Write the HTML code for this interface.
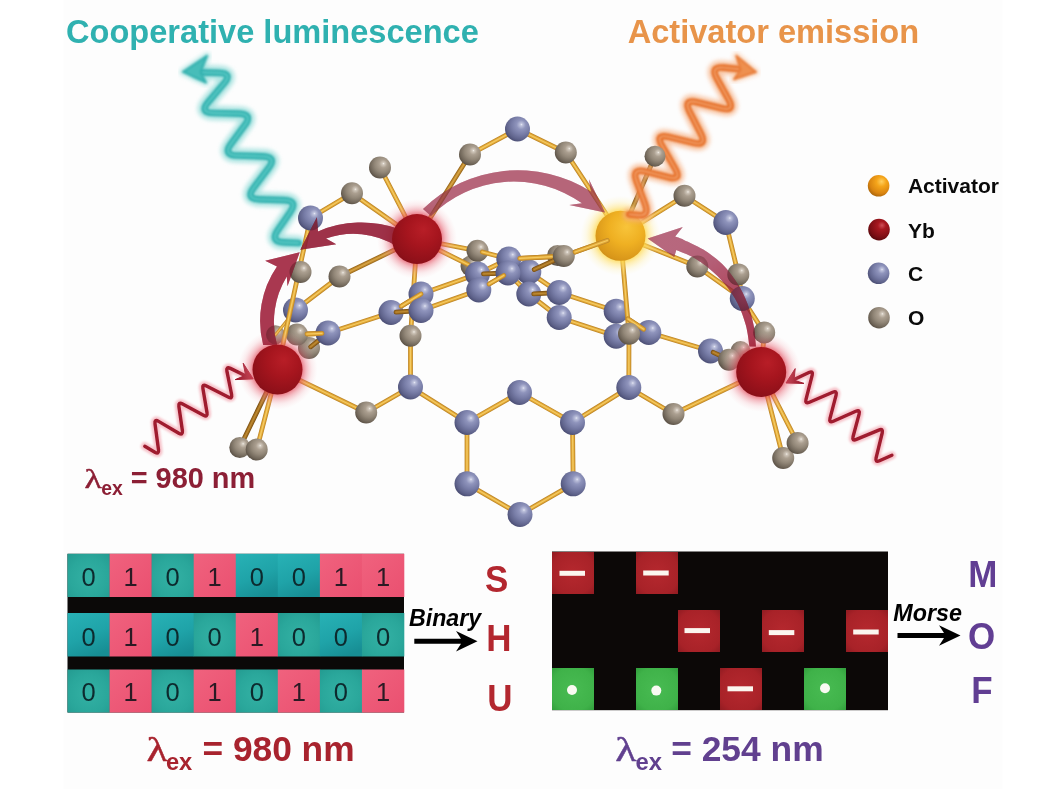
<!DOCTYPE html>
<html><head><meta charset="utf-8"><title>Cooperative luminescence</title>
<style>html,body{margin:0;padding:0;background:#fff;}body{width:1042px;height:789px;overflow:hidden;font-family:"Liberation Sans",sans-serif;}svg{display:block;}text{font-family:"Liberation Sans",sans-serif;}.ser{font-family:"Liberation Serif",serif;}</style>
</head><body>
<svg width="1042" height="789" viewBox="0 0 1042 789">
<defs>
<radialGradient id="gC" cx="0.61" cy="0.37" r="0.76" fx="0.66" fy="0.32">
 <stop offset="0" stop-color="#e4e6f3"/><stop offset="0.07" stop-color="#bcc0db"/><stop offset="0.24" stop-color="#8f94bc"/><stop offset="0.5" stop-color="#777ca6"/><stop offset="0.74" stop-color="#5f638b"/><stop offset="0.91" stop-color="#46496f"/><stop offset="1" stop-color="#3b3e62"/>
</radialGradient>
<radialGradient id="gO" cx="0.61" cy="0.37" r="0.76" fx="0.66" fy="0.32">
 <stop offset="0" stop-color="#f2eee8"/><stop offset="0.07" stop-color="#d0c7bb"/><stop offset="0.24" stop-color="#ab9f90"/><stop offset="0.5" stop-color="#928778"/><stop offset="0.74" stop-color="#72685b"/><stop offset="0.91" stop-color="#564c41"/><stop offset="1" stop-color="#473e35"/>
</radialGradient>
<radialGradient id="gYb" cx="0.6" cy="0.36" r="0.78" fx="0.63" fy="0.31">
 <stop offset="0" stop-color="#b81e27"/><stop offset="0.4" stop-color="#a6151e"/><stop offset="0.8" stop-color="#8e1019"/><stop offset="1" stop-color="#780c13"/>
</radialGradient>
<radialGradient id="gAct" cx="0.6" cy="0.36" r="0.75" fx="0.62" fy="0.32">
 <stop offset="0" stop-color="#f8c43a"/><stop offset="0.45" stop-color="#efb022"/><stop offset="0.85" stop-color="#d8961a"/><stop offset="1" stop-color="#c08214"/>
</radialGradient>
<radialGradient id="gLA" cx="0.6" cy="0.34" r="0.75" fx="0.64" fy="0.3">
 <stop offset="0" stop-color="#ffd060"/><stop offset="0.3" stop-color="#f5a51a"/><stop offset="0.7" stop-color="#d98410"/><stop offset="1" stop-color="#9c5c0a"/>
</radialGradient>
<radialGradient id="gLY" cx="0.6" cy="0.34" r="0.75" fx="0.64" fy="0.3">
 <stop offset="0" stop-color="#d05058"/><stop offset="0.25" stop-color="#a81820"/><stop offset="0.7" stop-color="#7c0e14"/><stop offset="1" stop-color="#4c060a"/>
</radialGradient>
<radialGradient id="glowR" cx="0.5" cy="0.5" r="0.5">
 <stop offset="0.6" stop-color="#e03a4c" stop-opacity="0.7"/><stop offset="0.72" stop-color="#e86474" stop-opacity="0.42"/><stop offset="0.86" stop-color="#f0909c" stop-opacity="0.16"/><stop offset="1" stop-color="#f8b0b8" stop-opacity="0"/>
</radialGradient>
<radialGradient id="glowY" cx="0.5" cy="0.5" r="0.5">
 <stop offset="0.6" stop-color="#ffd640" stop-opacity="0.8"/><stop offset="0.72" stop-color="#ffe06a" stop-opacity="0.5"/><stop offset="0.86" stop-color="#ffea90" stop-opacity="0.2"/><stop offset="1" stop-color="#fff0a8" stop-opacity="0"/>
</radialGradient>
<linearGradient id="arr4" gradientUnits="userSpaceOnUse" x1="752" y1="346" x2="690" y2="240">
 <stop offset="0" stop-color="#ac3850"/><stop offset="0.45" stop-color="#b0485f"/><stop offset="0.75" stop-color="#b55e76"/><stop offset="1" stop-color="#b8687e"/>
</linearGradient>
<radialGradient id="cellT" cx="0.5" cy="0.55" r="0.75"><stop offset="0" stop-color="#33b1a4"/><stop offset="0.6" stop-color="#2aa79b"/><stop offset="1" stop-color="#239a90"/></radialGradient>
<linearGradient id="cellT2" x1="0.2" y1="0" x2="0.6" y2="1"><stop offset="0" stop-color="#27b0b4"/><stop offset="0.55" stop-color="#1fa3a8"/><stop offset="1" stop-color="#178e94"/></linearGradient>
<linearGradient id="cellP" x1="0" y1="0" x2="1" y2="1"><stop offset="0" stop-color="#f0627e"/><stop offset="1" stop-color="#ea5070"/></linearGradient>
<radialGradient id="cellR" cx="0.5" cy="0.5" r="0.75"><stop offset="0" stop-color="#b5282e"/><stop offset="0.7" stop-color="#a82228"/><stop offset="1" stop-color="#8a1a20"/></radialGradient>
<radialGradient id="cellG" cx="0.5" cy="0.5" r="0.75"><stop offset="0" stop-color="#48bb52"/><stop offset="0.7" stop-color="#3fb249"/><stop offset="1" stop-color="#2f9a3a"/></radialGradient>
<filter id="b2" x="-20%" y="-20%" width="140%" height="140%"><feGaussianBlur stdDeviation="2.2"/></filter>
<filter id="b1" x="-20%" y="-20%" width="140%" height="140%"><feGaussianBlur stdDeviation="1.3"/></filter>
<filter id="b07" x="-20%" y="-20%" width="140%" height="140%"><feGaussianBlur stdDeviation="0.8"/></filter>
<filter id="b05" x="-20%" y="-20%" width="140%" height="140%"><feGaussianBlur stdDeviation="0.6"/></filter>
</defs>
<rect width="1042" height="789" fill="#ffffff"/>
<rect x="63.5" y="0" width="939" height="789" fill="#fdfdfd"/>
<text x="66" y="43.2" font-size="32.6" font-weight="bold" fill="#2fb1b0" id="t1">Cooperative luminescence</text>
<text x="627.7" y="43.2" font-size="32.6" font-weight="bold" fill="#e8944a" id="t2">Activator emission</text>
<g fill="none" stroke-linecap="round" stroke-linejoin="round">
<path d="M298.4,243.0 L283.9,242.3 Q269.9,241.6 277.8,230.1 L290.2,212.1 Q298.2,200.5 284.2,200.1 L259.3,199.3 Q245.3,198.9 253.7,187.7 L268.6,167.9 Q277.0,156.7 263.0,156.3 L236.7,155.5 Q222.7,155.0 231.1,143.8 L244.7,125.3 Q253.1,114.1 239.1,113.7 L213.2,113.0 Q199.2,112.6 208.3,102.0 L223.8,83.7 Q232.9,73.1 218.9,72.8 L198.0,72.3" stroke="#86d8d4" stroke-width="14.5" opacity="0.66" filter="url(#b2)"/>
<path d="M183,71.9 L207,55.8 L200.6,72.2 L206,82.6 Z" fill="#86d8d4" stroke="#86d8d4" stroke-width="7" opacity="0.55" filter="url(#b2)"/>
<path d="M298.4,243.0 L283.9,242.3 Q269.9,241.6 277.8,230.1 L290.2,212.1 Q298.2,200.5 284.2,200.1 L259.3,199.3 Q245.3,198.9 253.7,187.7 L268.6,167.9 Q277.0,156.7 263.0,156.3 L236.7,155.5 Q222.7,155.0 231.1,143.8 L244.7,125.3 Q253.1,114.1 239.1,113.7 L213.2,113.0 Q199.2,112.6 208.3,102.0 L223.8,83.7 Q232.9,73.1 218.9,72.8 L198.0,72.3" stroke="#31b0ae" stroke-width="6.7" filter="url(#b07)"/>
<path d="M298.4,243.0 L283.9,242.3 Q269.9,241.6 277.8,230.1 L290.2,212.1 Q298.2,200.5 284.2,200.1 L259.3,199.3 Q245.3,198.9 253.7,187.7 L268.6,167.9 Q277.0,156.7 263.0,156.3 L236.7,155.5 Q222.7,155.0 231.1,143.8 L244.7,125.3 Q253.1,114.1 239.1,113.7 L213.2,113.0 Q199.2,112.6 208.3,102.0 L223.8,83.7 Q232.9,73.1 218.9,72.8 L198.0,72.3" stroke="#5ccac6" stroke-width="2.3" opacity="0.9" filter="url(#b07)"/>
</g>
<path d="M183,71.9 L207,55.8 L200.6,72.2 L206,82.6 Z" fill="#47bdb9" stroke="#31b0ae" stroke-width="2" stroke-linejoin="round" filter="url(#b07)"/>
<g fill="none" stroke-linecap="round" stroke-linejoin="round">
<path d="M144.8,446.3 L154.9,452.2 Q159.2,454.7 158.5,449.8 L155.0,423.8 Q154.3,418.9 158.6,421.4 L178.8,433.2 Q183.1,435.7 182.4,430.8 L178.9,406.6 Q178.2,401.6 182.6,404.0 L203.5,415.2 Q207.9,417.6 207.0,412.6 L202.9,388.5 Q202.0,383.6 206.5,385.9 L228.2,397.1 Q232.6,399.4 231.6,394.5 L226.9,371.2 Q225.9,366.3 230.4,368.4 L247.0,376.5" stroke="#f08a98" stroke-width="8" opacity="0.5" filter="url(#b1)"/>
<path d="M144.8,446.3 L154.9,452.2 Q159.2,454.7 158.5,449.8 L155.0,423.8 Q154.3,418.9 158.6,421.4 L178.8,433.2 Q183.1,435.7 182.4,430.8 L178.9,406.6 Q178.2,401.6 182.6,404.0 L203.5,415.2 Q207.9,417.6 207.0,412.6 L202.9,388.5 Q202.0,383.6 206.5,385.9 L228.2,397.1 Q232.6,399.4 231.6,394.5 L226.9,371.2 Q225.9,366.3 230.4,368.4 L247.0,376.5" stroke="#9f1a2e" stroke-width="3.4" filter="url(#b05)"/>
</g>
<path d="M253.2,378.9 L243.2,363.2 L245.6,375.3 L235.2,379.6 Z" fill="#9f1a2e" stroke="#9f1a2e" stroke-width="1" stroke-linejoin="round" filter="url(#b05)"/>
<g fill="none" stroke-linecap="round" stroke-linejoin="round">
<path d="M891.9,455.3 L879.5,460.8 Q874.9,462.8 876.1,457.9 L882.2,433.0 Q883.4,428.2 878.8,430.1 L856.4,439.4 Q851.8,441.3 853.1,436.5 L859.1,414.1 Q860.4,409.2 855.8,411.3 L833.3,421.2 Q828.7,423.3 830.0,418.4 L836.1,395.1 Q837.3,390.2 832.7,392.2 L809.4,402.3 Q804.8,404.3 806.0,399.4 L812.2,375.2 Q813.4,370.4 808.9,372.5 L792.0,380.5" stroke="#f08a98" stroke-width="8" opacity="0.5" filter="url(#b1)"/>
<path d="M891.9,455.3 L879.5,460.8 Q874.9,462.8 876.1,457.9 L882.2,433.0 Q883.4,428.2 878.8,430.1 L856.4,439.4 Q851.8,441.3 853.1,436.5 L859.1,414.1 Q860.4,409.2 855.8,411.3 L833.3,421.2 Q828.7,423.3 830.0,418.4 L836.1,395.1 Q837.3,390.2 832.7,392.2 L809.4,402.3 Q804.8,404.3 806.0,399.4 L812.2,375.2 Q813.4,370.4 808.9,372.5 L792.0,380.5" stroke="#9f1a2e" stroke-width="3.4" filter="url(#b05)"/>
</g>
<path d="M786.0,383.0 L795.2,368.6 L794.0,380.2 L804.0,383.4 Z" fill="#9f1a2e" stroke="#9f1a2e" stroke-width="1" stroke-linejoin="round" filter="url(#b05)"/>
<circle cx="275.5" cy="334.8" r="9.5" fill="url(#gO)"/>
<line x1="275.5" y1="334.8" x2="295.5" y2="310.0" stroke="#bf882a" stroke-width="3.00" stroke-linecap="round"/>
<line x1="275.5" y1="334.8" x2="295.5" y2="310.0" stroke="#e3a936" stroke-width="1.98" stroke-linecap="round"/>
<line x1="275.5" y1="334.8" x2="295.5" y2="310.0" stroke="#f4cb64" stroke-width="0.78" stroke-linecap="round"/>
<line x1="277.5" y1="369.5" x2="239.8" y2="447.5" stroke="#7d5216" stroke-width="4.80" stroke-linecap="round"/>
<line x1="277.5" y1="369.5" x2="239.8" y2="447.5" stroke="#a4701f" stroke-width="3.17" stroke-linecap="round"/>
<line x1="277.5" y1="369.5" x2="239.8" y2="447.5" stroke="#bd8a34" stroke-width="1.25" stroke-linecap="round"/>
<circle cx="239.8" cy="447.5" r="10.5" fill="url(#gO)"/>
<line x1="277.5" y1="369.5" x2="256.7" y2="449.5" stroke="#bf882a" stroke-width="4.80" stroke-linecap="round"/>
<line x1="277.5" y1="369.5" x2="256.7" y2="449.5" stroke="#e3a936" stroke-width="3.17" stroke-linecap="round"/>
<line x1="277.5" y1="369.5" x2="256.7" y2="449.5" stroke="#f4cb64" stroke-width="1.25" stroke-linecap="round"/>
<circle cx="471.0" cy="266.0" r="10.5" fill="url(#gO)"/>
<circle cx="557.5" cy="255.5" r="10.5" fill="url(#gO)"/>
<circle cx="740.5" cy="351.0" r="10.0" fill="url(#gO)"/>
<line x1="517.5" y1="129.0" x2="470.0" y2="154.5" stroke="#bf882a" stroke-width="4.80" stroke-linecap="round"/>
<line x1="517.5" y1="129.0" x2="470.0" y2="154.5" stroke="#e3a936" stroke-width="3.17" stroke-linecap="round"/>
<line x1="517.5" y1="129.0" x2="470.0" y2="154.5" stroke="#f4cb64" stroke-width="1.25" stroke-linecap="round"/>
<line x1="517.5" y1="129.0" x2="565.8" y2="152.5" stroke="#bf882a" stroke-width="4.80" stroke-linecap="round"/>
<line x1="517.5" y1="129.0" x2="565.8" y2="152.5" stroke="#e3a936" stroke-width="3.17" stroke-linecap="round"/>
<line x1="517.5" y1="129.0" x2="565.8" y2="152.5" stroke="#f4cb64" stroke-width="1.25" stroke-linecap="round"/>
<line x1="470.0" y1="154.5" x2="417.0" y2="239.0" stroke="#9c6a1e" stroke-width="4.80" stroke-linecap="round"/>
<line x1="470.0" y1="154.5" x2="417.0" y2="239.0" stroke="#c08a2c" stroke-width="3.17" stroke-linecap="round"/>
<line x1="470.0" y1="154.5" x2="417.0" y2="239.0" stroke="#d8a648" stroke-width="1.25" stroke-linecap="round"/>
<line x1="380.0" y1="167.5" x2="417.0" y2="239.0" stroke="#bf882a" stroke-width="4.80" stroke-linecap="round"/>
<line x1="380.0" y1="167.5" x2="417.0" y2="239.0" stroke="#e3a936" stroke-width="3.17" stroke-linecap="round"/>
<line x1="380.0" y1="167.5" x2="417.0" y2="239.0" stroke="#f4cb64" stroke-width="1.25" stroke-linecap="round"/>
<line x1="352.0" y1="193.2" x2="417.0" y2="239.0" stroke="#bf882a" stroke-width="4.80" stroke-linecap="round"/>
<line x1="352.0" y1="193.2" x2="417.0" y2="239.0" stroke="#e3a936" stroke-width="3.17" stroke-linecap="round"/>
<line x1="352.0" y1="193.2" x2="417.0" y2="239.0" stroke="#f4cb64" stroke-width="1.25" stroke-linecap="round"/>
<line x1="352.0" y1="193.2" x2="310.5" y2="218.0" stroke="#bf882a" stroke-width="4.80" stroke-linecap="round"/>
<line x1="352.0" y1="193.2" x2="310.5" y2="218.0" stroke="#e3a936" stroke-width="3.17" stroke-linecap="round"/>
<line x1="352.0" y1="193.2" x2="310.5" y2="218.0" stroke="#f4cb64" stroke-width="1.25" stroke-linecap="round"/>
<line x1="565.8" y1="152.5" x2="620.5" y2="235.8" stroke="#bf882a" stroke-width="4.80" stroke-linecap="round"/>
<line x1="565.8" y1="152.5" x2="620.5" y2="235.8" stroke="#e3a936" stroke-width="3.17" stroke-linecap="round"/>
<line x1="565.8" y1="152.5" x2="620.5" y2="235.8" stroke="#f4cb64" stroke-width="1.25" stroke-linecap="round"/>
<line x1="684.5" y1="195.8" x2="620.5" y2="235.8" stroke="#bf882a" stroke-width="4.80" stroke-linecap="round"/>
<line x1="684.5" y1="195.8" x2="620.5" y2="235.8" stroke="#e3a936" stroke-width="3.17" stroke-linecap="round"/>
<line x1="684.5" y1="195.8" x2="620.5" y2="235.8" stroke="#f4cb64" stroke-width="1.25" stroke-linecap="round"/>
<line x1="684.5" y1="195.8" x2="725.8" y2="222.5" stroke="#bf882a" stroke-width="4.80" stroke-linecap="round"/>
<line x1="684.5" y1="195.8" x2="725.8" y2="222.5" stroke="#e3a936" stroke-width="3.17" stroke-linecap="round"/>
<line x1="684.5" y1="195.8" x2="725.8" y2="222.5" stroke="#f4cb64" stroke-width="1.25" stroke-linecap="round"/>
<line x1="725.8" y1="222.5" x2="738.3" y2="274.4" stroke="#bf882a" stroke-width="4.80" stroke-linecap="round"/>
<line x1="725.8" y1="222.5" x2="738.3" y2="274.4" stroke="#e3a936" stroke-width="3.17" stroke-linecap="round"/>
<line x1="725.8" y1="222.5" x2="738.3" y2="274.4" stroke="#f4cb64" stroke-width="1.25" stroke-linecap="round"/>
<line x1="738.3" y1="274.4" x2="742.3" y2="298.5" stroke="#bf882a" stroke-width="4.80" stroke-linecap="round"/>
<line x1="738.3" y1="274.4" x2="742.3" y2="298.5" stroke="#e3a936" stroke-width="3.17" stroke-linecap="round"/>
<line x1="738.3" y1="274.4" x2="742.3" y2="298.5" stroke="#f4cb64" stroke-width="1.25" stroke-linecap="round"/>
<line x1="620.5" y1="235.8" x2="697.3" y2="266.5" stroke="#bf882a" stroke-width="4.80" stroke-linecap="round"/>
<line x1="620.5" y1="235.8" x2="697.3" y2="266.5" stroke="#e3a936" stroke-width="3.17" stroke-linecap="round"/>
<line x1="620.5" y1="235.8" x2="697.3" y2="266.5" stroke="#f4cb64" stroke-width="1.25" stroke-linecap="round"/>
<line x1="697.3" y1="266.5" x2="742.3" y2="298.5" stroke="#bf882a" stroke-width="4.80" stroke-linecap="round"/>
<line x1="697.3" y1="266.5" x2="742.3" y2="298.5" stroke="#e3a936" stroke-width="3.17" stroke-linecap="round"/>
<line x1="697.3" y1="266.5" x2="742.3" y2="298.5" stroke="#f4cb64" stroke-width="1.25" stroke-linecap="round"/>
<line x1="742.3" y1="298.5" x2="764.2" y2="332.5" stroke="#bf882a" stroke-width="4.80" stroke-linecap="round"/>
<line x1="742.3" y1="298.5" x2="764.2" y2="332.5" stroke="#e3a936" stroke-width="3.17" stroke-linecap="round"/>
<line x1="742.3" y1="298.5" x2="764.2" y2="332.5" stroke="#f4cb64" stroke-width="1.25" stroke-linecap="round"/>
<line x1="764.2" y1="332.5" x2="761.2" y2="372.0" stroke="#bf882a" stroke-width="4.80" stroke-linecap="round"/>
<line x1="764.2" y1="332.5" x2="761.2" y2="372.0" stroke="#e3a936" stroke-width="3.17" stroke-linecap="round"/>
<line x1="764.2" y1="332.5" x2="761.2" y2="372.0" stroke="#f4cb64" stroke-width="1.25" stroke-linecap="round"/>
<line x1="417.0" y1="239.0" x2="477.5" y2="250.8" stroke="#bf882a" stroke-width="4.80" stroke-linecap="round"/>
<line x1="417.0" y1="239.0" x2="477.5" y2="250.8" stroke="#e3a936" stroke-width="3.17" stroke-linecap="round"/>
<line x1="417.0" y1="239.0" x2="477.5" y2="250.8" stroke="#f4cb64" stroke-width="1.25" stroke-linecap="round"/>
<line x1="339.5" y1="276.5" x2="417.0" y2="239.0" stroke="#9c6a1e" stroke-width="4.80" stroke-linecap="round"/>
<line x1="339.5" y1="276.5" x2="417.0" y2="239.0" stroke="#c08a2c" stroke-width="3.17" stroke-linecap="round"/>
<line x1="339.5" y1="276.5" x2="417.0" y2="239.0" stroke="#d8a648" stroke-width="1.25" stroke-linecap="round"/>
<line x1="339.5" y1="276.5" x2="295.5" y2="310.0" stroke="#bf882a" stroke-width="4.80" stroke-linecap="round"/>
<line x1="339.5" y1="276.5" x2="295.5" y2="310.0" stroke="#e3a936" stroke-width="3.17" stroke-linecap="round"/>
<line x1="339.5" y1="276.5" x2="295.5" y2="310.0" stroke="#f4cb64" stroke-width="1.25" stroke-linecap="round"/>
<line x1="328.0" y1="333.0" x2="391.0" y2="312.5" stroke="#bf882a" stroke-width="4.80" stroke-linecap="round"/>
<line x1="328.0" y1="333.0" x2="391.0" y2="312.5" stroke="#e3a936" stroke-width="3.17" stroke-linecap="round"/>
<line x1="328.0" y1="333.0" x2="391.0" y2="312.5" stroke="#f4cb64" stroke-width="1.25" stroke-linecap="round"/>
<line x1="421.0" y1="294.0" x2="477.5" y2="274.0" stroke="#bf882a" stroke-width="4.80" stroke-linecap="round"/>
<line x1="421.0" y1="294.0" x2="477.5" y2="274.0" stroke="#e3a936" stroke-width="3.17" stroke-linecap="round"/>
<line x1="421.0" y1="294.0" x2="477.5" y2="274.0" stroke="#f4cb64" stroke-width="1.25" stroke-linecap="round"/>
<line x1="421.0" y1="310.5" x2="478.8" y2="290.0" stroke="#bf882a" stroke-width="4.80" stroke-linecap="round"/>
<line x1="421.0" y1="310.5" x2="478.8" y2="290.0" stroke="#e3a936" stroke-width="3.17" stroke-linecap="round"/>
<line x1="421.0" y1="310.5" x2="478.8" y2="290.0" stroke="#f4cb64" stroke-width="1.25" stroke-linecap="round"/>
<line x1="417.0" y1="239.0" x2="410.5" y2="335.8" stroke="#bf882a" stroke-width="4.80" stroke-linecap="round"/>
<line x1="417.0" y1="239.0" x2="410.5" y2="335.8" stroke="#e3a936" stroke-width="3.17" stroke-linecap="round"/>
<line x1="417.0" y1="239.0" x2="410.5" y2="335.8" stroke="#f4cb64" stroke-width="1.25" stroke-linecap="round"/>
<line x1="410.5" y1="335.8" x2="410.5" y2="387.0" stroke="#bf882a" stroke-width="4.80" stroke-linecap="round"/>
<line x1="410.5" y1="335.8" x2="410.5" y2="387.0" stroke="#e3a936" stroke-width="3.17" stroke-linecap="round"/>
<line x1="410.5" y1="335.8" x2="410.5" y2="387.0" stroke="#f4cb64" stroke-width="1.25" stroke-linecap="round"/>
<line x1="410.5" y1="387.0" x2="366.2" y2="412.5" stroke="#bf882a" stroke-width="4.80" stroke-linecap="round"/>
<line x1="410.5" y1="387.0" x2="366.2" y2="412.5" stroke="#e3a936" stroke-width="3.17" stroke-linecap="round"/>
<line x1="410.5" y1="387.0" x2="366.2" y2="412.5" stroke="#f4cb64" stroke-width="1.25" stroke-linecap="round"/>
<line x1="366.2" y1="412.5" x2="277.5" y2="369.5" stroke="#bf882a" stroke-width="4.80" stroke-linecap="round"/>
<line x1="366.2" y1="412.5" x2="277.5" y2="369.5" stroke="#e3a936" stroke-width="3.17" stroke-linecap="round"/>
<line x1="366.2" y1="412.5" x2="277.5" y2="369.5" stroke="#f4cb64" stroke-width="1.25" stroke-linecap="round"/>
<line x1="410.5" y1="387.0" x2="467.0" y2="422.5" stroke="#bf882a" stroke-width="4.80" stroke-linecap="round"/>
<line x1="410.5" y1="387.0" x2="467.0" y2="422.5" stroke="#e3a936" stroke-width="3.17" stroke-linecap="round"/>
<line x1="410.5" y1="387.0" x2="467.0" y2="422.5" stroke="#f4cb64" stroke-width="1.25" stroke-linecap="round"/>
<line x1="467.0" y1="422.5" x2="519.5" y2="392.5" stroke="#bf882a" stroke-width="4.80" stroke-linecap="round"/>
<line x1="467.0" y1="422.5" x2="519.5" y2="392.5" stroke="#e3a936" stroke-width="3.17" stroke-linecap="round"/>
<line x1="467.0" y1="422.5" x2="519.5" y2="392.5" stroke="#f4cb64" stroke-width="1.25" stroke-linecap="round"/>
<line x1="519.5" y1="392.5" x2="572.5" y2="422.5" stroke="#bf882a" stroke-width="4.80" stroke-linecap="round"/>
<line x1="519.5" y1="392.5" x2="572.5" y2="422.5" stroke="#e3a936" stroke-width="3.17" stroke-linecap="round"/>
<line x1="519.5" y1="392.5" x2="572.5" y2="422.5" stroke="#f4cb64" stroke-width="1.25" stroke-linecap="round"/>
<line x1="572.5" y1="422.5" x2="628.8" y2="387.5" stroke="#bf882a" stroke-width="4.80" stroke-linecap="round"/>
<line x1="572.5" y1="422.5" x2="628.8" y2="387.5" stroke="#e3a936" stroke-width="3.17" stroke-linecap="round"/>
<line x1="572.5" y1="422.5" x2="628.8" y2="387.5" stroke="#f4cb64" stroke-width="1.25" stroke-linecap="round"/>
<line x1="467.0" y1="422.5" x2="467.0" y2="483.8" stroke="#bf882a" stroke-width="4.80" stroke-linecap="round"/>
<line x1="467.0" y1="422.5" x2="467.0" y2="483.8" stroke="#e3a936" stroke-width="3.17" stroke-linecap="round"/>
<line x1="467.0" y1="422.5" x2="467.0" y2="483.8" stroke="#f4cb64" stroke-width="1.25" stroke-linecap="round"/>
<line x1="467.0" y1="483.8" x2="520.0" y2="514.5" stroke="#bf882a" stroke-width="4.80" stroke-linecap="round"/>
<line x1="467.0" y1="483.8" x2="520.0" y2="514.5" stroke="#e3a936" stroke-width="3.17" stroke-linecap="round"/>
<line x1="467.0" y1="483.8" x2="520.0" y2="514.5" stroke="#f4cb64" stroke-width="1.25" stroke-linecap="round"/>
<line x1="520.0" y1="514.5" x2="573.2" y2="483.8" stroke="#bf882a" stroke-width="4.80" stroke-linecap="round"/>
<line x1="520.0" y1="514.5" x2="573.2" y2="483.8" stroke="#e3a936" stroke-width="3.17" stroke-linecap="round"/>
<line x1="520.0" y1="514.5" x2="573.2" y2="483.8" stroke="#f4cb64" stroke-width="1.25" stroke-linecap="round"/>
<line x1="573.2" y1="483.8" x2="572.5" y2="422.5" stroke="#bf882a" stroke-width="4.80" stroke-linecap="round"/>
<line x1="573.2" y1="483.8" x2="572.5" y2="422.5" stroke="#e3a936" stroke-width="3.17" stroke-linecap="round"/>
<line x1="573.2" y1="483.8" x2="572.5" y2="422.5" stroke="#f4cb64" stroke-width="1.25" stroke-linecap="round"/>
<line x1="628.8" y1="387.5" x2="673.5" y2="414.0" stroke="#bf882a" stroke-width="4.80" stroke-linecap="round"/>
<line x1="628.8" y1="387.5" x2="673.5" y2="414.0" stroke="#e3a936" stroke-width="3.17" stroke-linecap="round"/>
<line x1="628.8" y1="387.5" x2="673.5" y2="414.0" stroke="#f4cb64" stroke-width="1.25" stroke-linecap="round"/>
<line x1="673.5" y1="414.0" x2="761.2" y2="372.0" stroke="#bf882a" stroke-width="4.80" stroke-linecap="round"/>
<line x1="673.5" y1="414.0" x2="761.2" y2="372.0" stroke="#e3a936" stroke-width="3.17" stroke-linecap="round"/>
<line x1="673.5" y1="414.0" x2="761.2" y2="372.0" stroke="#f4cb64" stroke-width="1.25" stroke-linecap="round"/>
<line x1="559.2" y1="292.5" x2="616.2" y2="311.2" stroke="#bf882a" stroke-width="4.80" stroke-linecap="round"/>
<line x1="559.2" y1="292.5" x2="616.2" y2="311.2" stroke="#e3a936" stroke-width="3.17" stroke-linecap="round"/>
<line x1="559.2" y1="292.5" x2="616.2" y2="311.2" stroke="#f4cb64" stroke-width="1.25" stroke-linecap="round"/>
<line x1="559.2" y1="317.5" x2="616.2" y2="336.2" stroke="#bf882a" stroke-width="4.80" stroke-linecap="round"/>
<line x1="559.2" y1="317.5" x2="616.2" y2="336.2" stroke="#e3a936" stroke-width="3.17" stroke-linecap="round"/>
<line x1="559.2" y1="317.5" x2="616.2" y2="336.2" stroke="#f4cb64" stroke-width="1.25" stroke-linecap="round"/>
<line x1="648.8" y1="332.5" x2="710.5" y2="351.0" stroke="#bf882a" stroke-width="4.80" stroke-linecap="round"/>
<line x1="648.8" y1="332.5" x2="710.5" y2="351.0" stroke="#e3a936" stroke-width="3.17" stroke-linecap="round"/>
<line x1="648.8" y1="332.5" x2="710.5" y2="351.0" stroke="#f4cb64" stroke-width="1.25" stroke-linecap="round"/>
<line x1="761.2" y1="372.0" x2="797.6" y2="443.0" stroke="#bf882a" stroke-width="4.80" stroke-linecap="round"/>
<line x1="761.2" y1="372.0" x2="797.6" y2="443.0" stroke="#e3a936" stroke-width="3.17" stroke-linecap="round"/>
<line x1="761.2" y1="372.0" x2="797.6" y2="443.0" stroke="#f4cb64" stroke-width="1.25" stroke-linecap="round"/>
<line x1="761.2" y1="372.0" x2="783.2" y2="458.0" stroke="#bf882a" stroke-width="4.80" stroke-linecap="round"/>
<line x1="761.2" y1="372.0" x2="783.2" y2="458.0" stroke="#e3a936" stroke-width="3.17" stroke-linecap="round"/>
<line x1="761.2" y1="372.0" x2="783.2" y2="458.0" stroke="#f4cb64" stroke-width="1.25" stroke-linecap="round"/>
<line x1="629.0" y1="333.8" x2="628.8" y2="387.5" stroke="#bf882a" stroke-width="4.80" stroke-linecap="round"/>
<line x1="629.0" y1="333.8" x2="628.8" y2="387.5" stroke="#e3a936" stroke-width="3.17" stroke-linecap="round"/>
<line x1="629.0" y1="333.8" x2="628.8" y2="387.5" stroke="#f4cb64" stroke-width="1.25" stroke-linecap="round"/>
<line x1="508.0" y1="273.0" x2="528.8" y2="294.0" stroke="#bf882a" stroke-width="4.80" stroke-linecap="round"/>
<line x1="508.0" y1="273.0" x2="528.8" y2="294.0" stroke="#e3a936" stroke-width="3.17" stroke-linecap="round"/>
<line x1="508.0" y1="273.0" x2="528.8" y2="294.0" stroke="#f4cb64" stroke-width="1.25" stroke-linecap="round"/>
<line x1="563.8" y1="256.0" x2="620.5" y2="235.8" stroke="#bf882a" stroke-width="4.80" stroke-linecap="round"/>
<line x1="563.8" y1="256.0" x2="620.5" y2="235.8" stroke="#e3a936" stroke-width="3.17" stroke-linecap="round"/>
<line x1="563.8" y1="256.0" x2="620.5" y2="235.8" stroke="#f4cb64" stroke-width="1.25" stroke-linecap="round"/>
<line x1="477.5" y1="274.0" x2="508.8" y2="259.0" stroke="#bf882a" stroke-width="4.80" stroke-linecap="round"/>
<line x1="477.5" y1="274.0" x2="508.8" y2="259.0" stroke="#e3a936" stroke-width="3.17" stroke-linecap="round"/>
<line x1="477.5" y1="274.0" x2="508.8" y2="259.0" stroke="#f4cb64" stroke-width="1.25" stroke-linecap="round"/>
<line x1="655.0" y1="156.2" x2="620.5" y2="235.8" stroke="#7d5216" stroke-width="4.80" stroke-linecap="round"/>
<line x1="655.0" y1="156.2" x2="620.5" y2="235.8" stroke="#a4701f" stroke-width="3.17" stroke-linecap="round"/>
<line x1="655.0" y1="156.2" x2="620.5" y2="235.8" stroke="#bd8a34" stroke-width="1.25" stroke-linecap="round"/>
<line x1="417.0" y1="239.0" x2="468.3" y2="264.7" stroke="#bf882a" stroke-width="4.80" stroke-linecap="round"/>
<line x1="417.0" y1="239.0" x2="468.3" y2="264.7" stroke="#e3a936" stroke-width="3.17" stroke-linecap="round"/>
<line x1="417.0" y1="239.0" x2="468.3" y2="264.7" stroke="#f4cb64" stroke-width="1.25" stroke-linecap="round"/>
<line x1="328.0" y1="333.0" x2="297.0" y2="334.5" stroke="#bf882a" stroke-width="4.80" stroke-linecap="round"/>
<line x1="328.0" y1="333.0" x2="297.0" y2="334.5" stroke="#e3a936" stroke-width="3.17" stroke-linecap="round"/>
<line x1="328.0" y1="333.0" x2="297.0" y2="334.5" stroke="#f4cb64" stroke-width="1.25" stroke-linecap="round"/>
<circle cx="309.0" cy="348.0" r="11.0" fill="url(#gO)"/>
<line x1="328.0" y1="333.0" x2="310.6" y2="346.8" stroke="#7d5216" stroke-width="4.80" stroke-linecap="round"/>
<line x1="328.0" y1="333.0" x2="310.6" y2="346.8" stroke="#a4701f" stroke-width="3.17" stroke-linecap="round"/>
<line x1="328.0" y1="333.0" x2="310.6" y2="346.8" stroke="#bd8a34" stroke-width="1.25" stroke-linecap="round"/>
<circle cx="297.0" cy="334.5" r="11.0" fill="url(#gO)"/>
<circle cx="328.0" cy="333.0" r="12.5" fill="url(#gC)"/>
<line x1="307.0" y1="334.0" x2="322.0" y2="333.3" stroke="#bf882a" stroke-width="4.80" stroke-linecap="round"/>
<line x1="307.0" y1="334.0" x2="322.0" y2="333.3" stroke="#e3a936" stroke-width="3.17" stroke-linecap="round"/>
<line x1="307.0" y1="334.0" x2="322.0" y2="333.3" stroke="#f4cb64" stroke-width="1.25" stroke-linecap="round"/>
<circle cx="295.5" cy="310.0" r="12.5" fill="url(#gC)"/>
<line x1="310.5" y1="218.0" x2="277.5" y2="369.5" stroke="#bf882a" stroke-width="4.80" stroke-linecap="round"/>
<line x1="310.5" y1="218.0" x2="277.5" y2="369.5" stroke="#e3a936" stroke-width="3.17" stroke-linecap="round"/>
<line x1="310.5" y1="218.0" x2="277.5" y2="369.5" stroke="#f4cb64" stroke-width="1.25" stroke-linecap="round"/>
<circle cx="300.5" cy="272.0" r="11.0" fill="url(#gO)"/>
<circle cx="310.5" cy="218.0" r="12.5" fill="url(#gC)"/>
<circle cx="339.5" cy="276.5" r="11.0" fill="url(#gO)"/>
<circle cx="352.0" cy="193.2" r="11.0" fill="url(#gO)"/>
<circle cx="380.0" cy="167.5" r="11.0" fill="url(#gO)"/>
<circle cx="470.0" cy="154.5" r="11.0" fill="url(#gO)"/>
<circle cx="517.5" cy="129.0" r="12.5" fill="url(#gC)"/>
<circle cx="565.8" cy="152.5" r="11.0" fill="url(#gO)"/>
<circle cx="684.5" cy="195.8" r="11.0" fill="url(#gO)"/>
<circle cx="725.8" cy="222.5" r="12.5" fill="url(#gC)"/>
<circle cx="697.3" cy="266.5" r="11.0" fill="url(#gO)"/>
<circle cx="738.3" cy="274.4" r="11.0" fill="url(#gO)"/>
<circle cx="742.3" cy="298.5" r="12.5" fill="url(#gC)"/>
<circle cx="764.2" cy="332.5" r="11.0" fill="url(#gO)"/>
<line x1="508.8" y1="259.0" x2="563.8" y2="256.0" stroke="#bf882a" stroke-width="4.80" stroke-linecap="round"/>
<line x1="508.8" y1="259.0" x2="563.8" y2="256.0" stroke="#e3a936" stroke-width="3.17" stroke-linecap="round"/>
<line x1="508.8" y1="259.0" x2="563.8" y2="256.0" stroke="#f4cb64" stroke-width="1.25" stroke-linecap="round"/>
<line x1="528.8" y1="272.0" x2="559.2" y2="292.5" stroke="#bf882a" stroke-width="4.80" stroke-linecap="round"/>
<line x1="528.8" y1="272.0" x2="559.2" y2="292.5" stroke="#e3a936" stroke-width="3.17" stroke-linecap="round"/>
<line x1="528.8" y1="272.0" x2="559.2" y2="292.5" stroke="#f4cb64" stroke-width="1.25" stroke-linecap="round"/>
<line x1="528.8" y1="294.0" x2="559.2" y2="317.5" stroke="#bf882a" stroke-width="4.80" stroke-linecap="round"/>
<line x1="528.8" y1="294.0" x2="559.2" y2="317.5" stroke="#e3a936" stroke-width="3.17" stroke-linecap="round"/>
<line x1="528.8" y1="294.0" x2="559.2" y2="317.5" stroke="#f4cb64" stroke-width="1.25" stroke-linecap="round"/>
<line x1="478.8" y1="290.0" x2="508.0" y2="273.0" stroke="#bf882a" stroke-width="4.80" stroke-linecap="round"/>
<line x1="478.8" y1="290.0" x2="508.0" y2="273.0" stroke="#e3a936" stroke-width="3.17" stroke-linecap="round"/>
<line x1="478.8" y1="290.0" x2="508.0" y2="273.0" stroke="#f4cb64" stroke-width="1.25" stroke-linecap="round"/>
<line x1="391.0" y1="312.5" x2="421.0" y2="294.0" stroke="#bf882a" stroke-width="4.80" stroke-linecap="round"/>
<line x1="391.0" y1="312.5" x2="421.0" y2="294.0" stroke="#e3a936" stroke-width="3.17" stroke-linecap="round"/>
<line x1="391.0" y1="312.5" x2="421.0" y2="294.0" stroke="#f4cb64" stroke-width="1.25" stroke-linecap="round"/>
<line x1="616.2" y1="311.2" x2="648.8" y2="332.5" stroke="#bf882a" stroke-width="4.80" stroke-linecap="round"/>
<line x1="616.2" y1="311.2" x2="648.8" y2="332.5" stroke="#e3a936" stroke-width="3.17" stroke-linecap="round"/>
<line x1="616.2" y1="311.2" x2="648.8" y2="332.5" stroke="#f4cb64" stroke-width="1.25" stroke-linecap="round"/>
<circle cx="477.5" cy="250.8" r="11.0" fill="url(#gO)"/>
<line x1="482.3" y1="252.0" x2="508.8" y2="259.0" stroke="#bf882a" stroke-width="4.80" stroke-linecap="round"/>
<line x1="482.3" y1="252.0" x2="508.8" y2="259.0" stroke="#e3a936" stroke-width="3.17" stroke-linecap="round"/>
<line x1="482.3" y1="252.0" x2="508.8" y2="259.0" stroke="#f4cb64" stroke-width="1.25" stroke-linecap="round"/>
<circle cx="508.8" cy="259.0" r="12.5" fill="url(#gC)"/>
<circle cx="477.5" cy="274.0" r="12.5" fill="url(#gC)"/>
<circle cx="528.8" cy="272.0" r="12.5" fill="url(#gC)"/>
<line x1="483.5" y1="273.8" x2="508.0" y2="273.0" stroke="#7d5216" stroke-width="4.80" stroke-linecap="round"/>
<line x1="483.5" y1="273.8" x2="508.0" y2="273.0" stroke="#a4701f" stroke-width="3.17" stroke-linecap="round"/>
<line x1="483.5" y1="273.8" x2="508.0" y2="273.0" stroke="#bd8a34" stroke-width="1.25" stroke-linecap="round"/>
<line x1="519.7" y1="258.4" x2="563.8" y2="256.0" stroke="#bf882a" stroke-width="4.80" stroke-linecap="round"/>
<line x1="519.7" y1="258.4" x2="563.8" y2="256.0" stroke="#e3a936" stroke-width="3.17" stroke-linecap="round"/>
<line x1="519.7" y1="258.4" x2="563.8" y2="256.0" stroke="#f4cb64" stroke-width="1.25" stroke-linecap="round"/>
<line x1="534.2" y1="269.5" x2="563.8" y2="256.0" stroke="#7d5216" stroke-width="4.80" stroke-linecap="round"/>
<line x1="534.2" y1="269.5" x2="563.8" y2="256.0" stroke="#a4701f" stroke-width="3.17" stroke-linecap="round"/>
<line x1="534.2" y1="269.5" x2="563.8" y2="256.0" stroke="#bd8a34" stroke-width="1.25" stroke-linecap="round"/>
<circle cx="563.8" cy="256.0" r="11.0" fill="url(#gO)"/>
<circle cx="508.0" cy="273.0" r="12.5" fill="url(#gC)"/>
<circle cx="478.8" cy="290.0" r="12.5" fill="url(#gC)"/>
<line x1="489.1" y1="284.0" x2="503.7" y2="275.5" stroke="#bf882a" stroke-width="4.80" stroke-linecap="round"/>
<line x1="489.1" y1="284.0" x2="503.7" y2="275.5" stroke="#e3a936" stroke-width="3.17" stroke-linecap="round"/>
<line x1="489.1" y1="284.0" x2="503.7" y2="275.5" stroke="#f4cb64" stroke-width="1.25" stroke-linecap="round"/>
<circle cx="528.8" cy="294.0" r="12.5" fill="url(#gC)"/>
<line x1="533.7" y1="293.8" x2="559.2" y2="292.5" stroke="#7d5216" stroke-width="4.80" stroke-linecap="round"/>
<line x1="533.7" y1="293.8" x2="559.2" y2="292.5" stroke="#a4701f" stroke-width="3.17" stroke-linecap="round"/>
<line x1="533.7" y1="293.8" x2="559.2" y2="292.5" stroke="#bd8a34" stroke-width="1.25" stroke-linecap="round"/>
<circle cx="559.2" cy="292.5" r="12.5" fill="url(#gC)"/>
<circle cx="559.2" cy="317.5" r="12.5" fill="url(#gC)"/>
<circle cx="391.0" cy="312.5" r="12.5" fill="url(#gC)"/>
<circle cx="421.0" cy="294.0" r="12.5" fill="url(#gC)"/>
<line x1="401.2" y1="306.2" x2="421.0" y2="294.0" stroke="#bf882a" stroke-width="4.80" stroke-linecap="round"/>
<line x1="401.2" y1="306.2" x2="421.0" y2="294.0" stroke="#e3a936" stroke-width="3.17" stroke-linecap="round"/>
<line x1="401.2" y1="306.2" x2="421.0" y2="294.0" stroke="#f4cb64" stroke-width="1.25" stroke-linecap="round"/>
<line x1="396.0" y1="312.2" x2="421.0" y2="310.5" stroke="#7d5216" stroke-width="4.80" stroke-linecap="round"/>
<line x1="396.0" y1="312.2" x2="421.0" y2="310.5" stroke="#a4701f" stroke-width="3.17" stroke-linecap="round"/>
<line x1="396.0" y1="312.2" x2="421.0" y2="310.5" stroke="#bd8a34" stroke-width="1.25" stroke-linecap="round"/>
<circle cx="421.0" cy="310.5" r="12.5" fill="url(#gC)"/>
<circle cx="410.5" cy="335.8" r="11.0" fill="url(#gO)"/>
<circle cx="410.5" cy="387.0" r="12.5" fill="url(#gC)"/>
<circle cx="366.2" cy="412.5" r="11.0" fill="url(#gO)"/>
<circle cx="467.0" cy="422.5" r="12.5" fill="url(#gC)"/>
<circle cx="519.5" cy="392.5" r="12.5" fill="url(#gC)"/>
<circle cx="572.5" cy="422.5" r="12.5" fill="url(#gC)"/>
<circle cx="628.8" cy="387.5" r="12.5" fill="url(#gC)"/>
<circle cx="467.0" cy="483.8" r="12.5" fill="url(#gC)"/>
<circle cx="573.2" cy="483.8" r="12.5" fill="url(#gC)"/>
<circle cx="520.0" cy="514.5" r="12.5" fill="url(#gC)"/>
<circle cx="673.5" cy="414.0" r="11.0" fill="url(#gO)"/>
<circle cx="616.2" cy="336.2" r="12.5" fill="url(#gC)"/>
<circle cx="616.2" cy="311.2" r="12.5" fill="url(#gC)"/>
<line x1="620.5" y1="235.8" x2="629.0" y2="333.8" stroke="#bf882a" stroke-width="4.80" stroke-linecap="round"/>
<line x1="620.5" y1="235.8" x2="629.0" y2="333.8" stroke="#e3a936" stroke-width="3.17" stroke-linecap="round"/>
<line x1="620.5" y1="235.8" x2="629.0" y2="333.8" stroke="#f4cb64" stroke-width="1.25" stroke-linecap="round"/>
<circle cx="648.8" cy="332.5" r="12.5" fill="url(#gC)"/>
<line x1="628.0" y1="318.9" x2="643.7" y2="329.2" stroke="#bf882a" stroke-width="4.80" stroke-linecap="round"/>
<line x1="628.0" y1="318.9" x2="643.7" y2="329.2" stroke="#e3a936" stroke-width="3.17" stroke-linecap="round"/>
<line x1="628.0" y1="318.9" x2="643.7" y2="329.2" stroke="#f4cb64" stroke-width="1.25" stroke-linecap="round"/>
<circle cx="629.0" cy="333.8" r="11.0" fill="url(#gO)"/>
<circle cx="710.5" cy="351.0" r="12.5" fill="url(#gC)"/>
<line x1="713.2" y1="352.3" x2="729.0" y2="359.7" stroke="#7d5216" stroke-width="4.80" stroke-linecap="round"/>
<line x1="713.2" y1="352.3" x2="729.0" y2="359.7" stroke="#a4701f" stroke-width="3.17" stroke-linecap="round"/>
<line x1="713.2" y1="352.3" x2="729.0" y2="359.7" stroke="#bd8a34" stroke-width="1.25" stroke-linecap="round"/>
<circle cx="729.0" cy="359.7" r="11.0" fill="url(#gO)"/>
<circle cx="783.2" cy="458.0" r="11.0" fill="url(#gO)"/>
<circle cx="797.6" cy="443.0" r="11.0" fill="url(#gO)"/>
<circle cx="256.7" cy="449.5" r="11.0" fill="url(#gO)"/>
<circle cx="417.0" cy="239.0" r="40" fill="url(#glowR)"/>
<circle cx="277.5" cy="369.5" r="40" fill="url(#glowR)"/>
<circle cx="761.2" cy="372.0" r="40" fill="url(#glowR)"/>
<circle cx="620.5" cy="235.8" r="40" fill="url(#glowY)"/>
<path d="M423.0,209.0 A135.2,135.2 0 0 1 591.0,191.8 L588.9,179.2 L605.0,212.5 L569.3,205.0 L582.0,203.3 A117.2,117.2 0 0 0 431.0,216.0 Z" fill="#b7657a" style="mix-blend-mode:multiply"/>
<path d="M423.0,209.0 A135.2,135.2 0 0 1 591.0,191.8 L588.9,179.2 L605.0,212.5 L569.3,205.0 L582.0,203.3 A117.2,117.2 0 0 0 431.0,216.0 Z" fill="#b7657a" fill-opacity="0.45"/>
<path d="M398.0,228.8 A110.1,110.1 0 0 0 318.0,231.4 L316.9,217.2 L300.3,249.7 L336.2,244.2 L326.0,238.5 A81.1,81.1 0 0 1 396.0,245.8 Z" fill="#9f324a" style="mix-blend-mode:multiply"/>
<path d="M398.0,228.8 A110.1,110.1 0 0 0 318.0,231.4 L316.9,217.2 L300.3,249.7 L336.2,244.2 L326.0,238.5 A81.1,81.1 0 0 1 396.0,245.8 Z" fill="#9f324a" fill-opacity="0.60"/>
<path d="M263.2,345.0 A95.7,95.7 0 0 1 277.0,266.6 L265.2,260.8 L299.7,252.3 L287.5,286.2 L286.8,276.4 A87.3,87.3 0 0 0 277.0,345.0 Z" fill="#aa3951" style="mix-blend-mode:multiply"/>
<path d="M263.2,345.0 A95.7,95.7 0 0 1 277.0,266.6 L265.2,260.8 L299.7,252.3 L287.5,286.2 L286.8,276.4 A87.3,87.3 0 0 0 277.0,345.0 Z" fill="#aa3951" fill-opacity="0.55"/>
<path d="M756.0,346.5 C755.6,342.9 755.0,332.2 753.6,325.0 C752.2,317.8 750.0,310.2 747.4,303.4 C744.8,296.6 741.8,290.5 737.7,284.0 C733.6,277.5 728.4,270.3 722.7,264.6 C717.0,258.9 709.8,253.7 703.3,249.6 C696.8,245.5 688.6,242.1 683.9,239.9 C679.2,237.7 676.7,237.2 675.2,236.6 L682.8,226.9 L647.7,238.4 L674.2,257.1 L676.3,250.0 C679.0,251.2 686.9,253.9 692.5,257.1 C698.1,260.3 704.3,264.5 709.7,269.0 C715.1,273.5 720.1,278.3 724.8,284.0 C729.5,289.7 734.2,296.6 737.7,303.4 C741.2,310.2 743.8,317.8 745.8,325.0 C747.8,332.2 748.9,342.9 749.5,346.5 Z" fill="url(#arr4)" style="mix-blend-mode:multiply"/>
<path d="M756.0,346.5 C755.6,342.9 755.0,332.2 753.6,325.0 C752.2,317.8 750.0,310.2 747.4,303.4 C744.8,296.6 741.8,290.5 737.7,284.0 C733.6,277.5 728.4,270.3 722.7,264.6 C717.0,258.9 709.8,253.7 703.3,249.6 C696.8,245.5 688.6,242.1 683.9,239.9 C679.2,237.7 676.7,237.2 675.2,236.6 L682.8,226.9 L647.7,238.4 L674.2,257.1 L676.3,250.0 C679.0,251.2 686.9,253.9 692.5,257.1 C698.1,260.3 704.3,264.5 709.7,269.0 C715.1,273.5 720.1,278.3 724.8,284.0 C729.5,289.7 734.2,296.6 737.7,303.4 C741.2,310.2 743.8,317.8 745.8,325.0 C747.8,332.2 748.9,342.9 749.5,346.5 Z" fill="url(#arr4)" fill-opacity="0.45"/>
<circle cx="417.0" cy="239.0" r="25.0" fill="url(#gYb)"/>
<circle cx="277.5" cy="369.5" r="25.0" fill="url(#gYb)"/>
<circle cx="761.2" cy="372.0" r="25.0" fill="url(#gYb)"/>
<circle cx="620.5" cy="235.8" r="25.0" fill="url(#gAct)"/>
<line x1="575.1" y1="252.0" x2="607.3" y2="240.5" stroke="#bf882a" stroke-width="4.80" stroke-linecap="round"/>
<line x1="575.1" y1="252.0" x2="607.3" y2="240.5" stroke="#e3a936" stroke-width="3.17" stroke-linecap="round"/>
<line x1="575.1" y1="252.0" x2="607.3" y2="240.5" stroke="#f4cb64" stroke-width="1.25" stroke-linecap="round"/>
<g fill="none" stroke-linecap="round" stroke-linejoin="round"><path d="M629.3,214.4 L639.5,215.3 Q649.6,216.2 644.7,203.1 L636.5,181.1 Q631.5,168.0 645.1,171.4 L668.5,177.3 Q682.1,180.8 675.1,168.6 L662.0,145.7 Q655.0,133.6 668.6,136.9 L693.6,142.9 Q707.2,146.2 700.9,133.7 L689.5,111.4 Q683.2,98.9 696.8,102.2 L721.7,108.3 Q735.3,111.6 728.5,99.3 L716.8,78.3 Q710.0,66.1 723.9,67.6 L740.0,69.3" stroke="#f6ae80" stroke-width="14" opacity="0.68" filter="url(#b2)"/><path d="M756,72 L736.3,55.8 L740.6,69.6 L734,79.2 Z" fill="#f8bd94" stroke="#f8bd94" stroke-width="7" opacity="0.55" filter="url(#b2)"/><path d="M629.3,214.4 L639.5,215.3 Q649.6,216.2 644.7,203.1 L636.5,181.1 Q631.5,168.0 645.1,171.4 L668.5,177.3 Q682.1,180.8 675.1,168.6 L662.0,145.7 Q655.0,133.6 668.6,136.9 L693.6,142.9 Q707.2,146.2 700.9,133.7 L689.5,111.4 Q683.2,98.9 696.8,102.2 L721.7,108.3 Q735.3,111.6 728.5,99.3 L716.8,78.3 Q710.0,66.1 723.9,67.6 L740.0,69.3" stroke="#e56e26" stroke-width="6.6" filter="url(#b07)"/><path d="M629.3,214.4 L639.5,215.3 Q649.6,216.2 644.7,203.1 L636.5,181.1 Q631.5,168.0 645.1,171.4 L668.5,177.3 Q682.1,180.8 675.1,168.6 L662.0,145.7 Q655.0,133.6 668.6,136.9 L693.6,142.9 Q707.2,146.2 700.9,133.7 L689.5,111.4 Q683.2,98.9 696.8,102.2 L721.7,108.3 Q735.3,111.6 728.5,99.3 L716.8,78.3 Q710.0,66.1 723.9,67.6 L740.0,69.3" stroke="#f5ac7c" stroke-width="1.9" opacity="0.85" filter="url(#b07)"/></g><path d="M756,72 L736.3,55.8 L740.6,69.6 L734,79.2 Z" fill="#ee9050" stroke="#e87c38" stroke-width="2" stroke-linejoin="round" filter="url(#b07)"/>
<circle cx="655.0" cy="156.2" r="10.5" fill="url(#gO)"/>
<circle cx="878.6" cy="185.8" r="10.8" fill="url(#gLA)"/>
<circle cx="879" cy="229.6" r="10.8" fill="url(#gLY)"/>
<circle cx="878.6" cy="273.3" r="10.8" fill="url(#gC)"/>
<circle cx="879" cy="317.7" r="10.8" fill="url(#gO)"/>
<g font-size="21" font-weight="bold" fill="#0a0a0a">
<text x="907.9" y="192.9" id="lg1">Activator</text>
<text x="907.9" y="237.5">Yb</text>
<text x="907.9" y="280.5">C</text>
<text x="907.9" y="324.9">O</text>
</g>
<g fill="#8c1f35">
<text class="ser" transform="translate(84.5,488.3) scale(1.31,1)" x="0" y="0" font-size="27.3" stroke="#8c1f35" stroke-width="0.4" id="lal">&#955;</text>
<text x="101.3" y="495.4" font-size="19.4" font-weight="bold" id="las">ex</text>
<text x="130.7" y="488.3" font-size="28.9" font-weight="bold" id="lam">= 980 nm</text>
</g>
<g fill="#a8232e">
<text class="ser" transform="translate(146.5,761.0) scale(1.31,1)" x="0" y="0" font-size="33.4" stroke="#a8232e" stroke-width="0.4" id="lbl">&#955;</text>
<text x="165.9" y="769.6" font-size="23.7" font-weight="bold" id="lbs">ex</text>
<text x="202.5" y="761.0" font-size="35.3" font-weight="bold" id="lbm">= 980 nm</text>
</g>
<g fill="#61408f">
<text class="ser" transform="translate(615.3,761.2) scale(1.31,1)" x="0" y="0" font-size="33.5" stroke="#61408f" stroke-width="0.4" id="lcl">&#955;</text>
<text x="635.4" y="769.9" font-size="23.8" font-weight="bold" id="lcs">ex</text>
<text x="671.2" y="761.2" font-size="35.4" font-weight="bold" id="lcm">= 254 nm</text>
</g>
<rect x="67.5" y="553.8" width="336.5" height="158.7" fill="#0b0908"/>
<g font-size="25.5" text-anchor="middle">
<rect x="67.50" y="553.8" width="42.36" height="43.2" fill="url(#cellT)"/>
<text x="88.5" y="586.3" fill="#0d2a2e">0</text>
<rect x="109.56" y="553.8" width="42.36" height="43.2" fill="url(#cellP)"/>
<text x="130.6" y="586.3" fill="#2b1a24">1</text>
<rect x="151.62" y="553.8" width="42.36" height="43.2" fill="url(#cellT)"/>
<text x="172.7" y="586.3" fill="#0d2a2e">0</text>
<rect x="193.69" y="553.8" width="42.36" height="43.2" fill="url(#cellP)"/>
<text x="214.7" y="586.3" fill="#2b1a24">1</text>
<rect x="235.75" y="553.8" width="42.36" height="43.2" fill="url(#cellT2)"/>
<text x="256.8" y="586.3" fill="#0d2a2e">0</text>
<rect x="277.81" y="553.8" width="42.36" height="43.2" fill="url(#cellT2)"/>
<text x="298.8" y="586.3" fill="#0d2a2e">0</text>
<rect x="319.88" y="553.8" width="42.36" height="43.2" fill="url(#cellP)"/>
<text x="340.9" y="586.3" fill="#2b1a24">1</text>
<rect x="361.94" y="553.8" width="42.36" height="43.2" fill="url(#cellP)"/>
<text x="383.0" y="586.3" fill="#2b1a24">1</text>
<rect x="67.50" y="613.0" width="42.36" height="43.5" fill="url(#cellT2)"/>
<text x="88.5" y="646.3" fill="#0d2a2e">0</text>
<rect x="109.56" y="613.0" width="42.36" height="43.5" fill="url(#cellP)"/>
<text x="130.6" y="646.3" fill="#2b1a24">1</text>
<rect x="151.62" y="613.0" width="42.36" height="43.5" fill="url(#cellT2)"/>
<text x="172.7" y="646.3" fill="#0d2a2e">0</text>
<rect x="193.69" y="613.0" width="42.36" height="43.5" fill="url(#cellT)"/>
<text x="214.7" y="646.3" fill="#0d2a2e">0</text>
<rect x="235.75" y="613.0" width="42.36" height="43.5" fill="url(#cellP)"/>
<text x="256.8" y="646.3" fill="#2b1a24">1</text>
<rect x="277.81" y="613.0" width="42.36" height="43.5" fill="url(#cellT)"/>
<text x="298.8" y="646.3" fill="#0d2a2e">0</text>
<rect x="319.88" y="613.0" width="42.36" height="43.5" fill="url(#cellT2)"/>
<text x="340.9" y="646.3" fill="#0d2a2e">0</text>
<rect x="361.94" y="613.0" width="42.36" height="43.5" fill="url(#cellT)"/>
<text x="383.0" y="646.3" fill="#0d2a2e">0</text>
<rect x="67.50" y="669.5" width="42.36" height="43.0" fill="url(#cellT)"/>
<text x="88.5" y="700.8" fill="#0d2a2e">0</text>
<rect x="109.56" y="669.5" width="42.36" height="43.0" fill="url(#cellP)"/>
<text x="130.6" y="700.8" fill="#2b1a24">1</text>
<rect x="151.62" y="669.5" width="42.36" height="43.0" fill="url(#cellT)"/>
<text x="172.7" y="700.8" fill="#0d2a2e">0</text>
<rect x="193.69" y="669.5" width="42.36" height="43.0" fill="url(#cellP)"/>
<text x="214.7" y="700.8" fill="#2b1a24">1</text>
<rect x="235.75" y="669.5" width="42.36" height="43.0" fill="url(#cellT)"/>
<text x="256.8" y="700.8" fill="#0d2a2e">0</text>
<rect x="277.81" y="669.5" width="42.36" height="43.0" fill="url(#cellP)"/>
<text x="298.8" y="700.8" fill="#2b1a24">1</text>
<rect x="319.88" y="669.5" width="42.36" height="43.0" fill="url(#cellT)"/>
<text x="340.9" y="700.8" fill="#0d2a2e">0</text>
<rect x="361.94" y="669.5" width="42.36" height="43.0" fill="url(#cellP)"/>
<text x="383.0" y="700.8" fill="#2b1a24">1</text>
</g>
<text x="409" y="626.3" font-size="23.2" font-weight="bold" font-style="italic" fill="#000" id="bin">Binary</text>
<path d="M414.3,638.7 H461 L456,631 L477.5,641.3 L456,651.5 L461,643.8 H414.3 Z" fill="#000"/>
<text transform="translate(496.6,592.2) scale(0.955,1)" text-anchor="middle" font-size="36.6" font-weight="bold" fill="#b3272f">S</text>
<text transform="translate(498.8,651.3) scale(0.955,1)" text-anchor="middle" font-size="36.6" font-weight="bold" fill="#b3272f">H</text>
<text transform="translate(499.8,711.0) scale(0.955,1)" text-anchor="middle" font-size="36.6" font-weight="bold" fill="#b3272f">U</text>
<rect x="552" y="551.5" width="336" height="158.7" fill="#0c0807"/>
<rect x="552.0" y="552.0" width="42" height="42" fill="url(#cellR)"/>
<rect x="559.5" y="570.8" width="25.5" height="5" fill="#fbf6ef"/>
<rect x="636.0" y="552.0" width="42" height="42" fill="url(#cellR)"/>
<rect x="643.2" y="570.5" width="25.5" height="5" fill="#fbf6ef"/>
<rect x="678.0" y="610.0" width="42" height="42" fill="url(#cellR)"/>
<rect x="684.5" y="628.1" width="25.5" height="5" fill="#fbf6ef"/>
<rect x="762.0" y="610.0" width="42" height="42" fill="url(#cellR)"/>
<rect x="768.8" y="630.1" width="25.5" height="5" fill="#fbf6ef"/>
<rect x="846.0" y="610.0" width="42" height="42" fill="url(#cellR)"/>
<rect x="853.2" y="629.5" width="25.5" height="5" fill="#fbf6ef"/>
<rect x="552.0" y="668.0" width="42" height="42" fill="url(#cellG)"/>
<circle cx="572.0" cy="690.0" r="5" fill="#f9faf2"/>
<rect x="636.0" y="668.0" width="42" height="42" fill="url(#cellG)"/>
<circle cx="656.3" cy="690.6" r="5" fill="#f9faf2"/>
<rect x="720.0" y="668.0" width="42" height="42" fill="url(#cellR)"/>
<rect x="727.5" y="686.3" width="25.5" height="5" fill="#fbf6ef"/>
<rect x="804.0" y="668.0" width="42" height="42" fill="url(#cellG)"/>
<circle cx="825.0" cy="688.2" r="5" fill="#f9faf2"/>
<text x="893.3" y="620.5" font-size="23.3" font-weight="bold" font-style="italic" fill="#000" id="mor">Morse</text>
<path d="M897.5,633 H944 L939,625.3 L960.5,635.6 L939,645.8 L944,638.1 H897.5 Z" fill="#000"/>
<text transform="translate(982.8,587.0) scale(0.955,1)" text-anchor="middle" font-size="36.6" font-weight="bold" fill="#613e93">M</text>
<text transform="translate(981.6,648.8) scale(0.955,1)" text-anchor="middle" font-size="36.6" font-weight="bold" fill="#613e93">O</text>
<text transform="translate(981.8,703.0) scale(0.955,1)" text-anchor="middle" font-size="36.6" font-weight="bold" fill="#613e93">F</text>
</svg></body></html>
